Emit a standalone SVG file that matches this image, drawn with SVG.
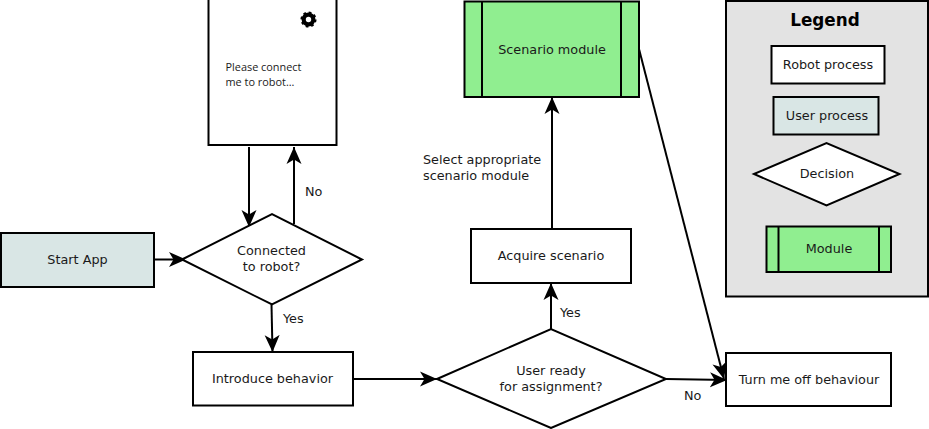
<svg xmlns="http://www.w3.org/2000/svg" width="929" height="429" viewBox="0 0 929 429">
<style>
text{font-family:"DejaVu Sans",sans-serif;font-size:12.800px;fill:#1a1a1a;text-anchor:middle}
.l{text-anchor:start}
.s{stroke:#000;stroke-width:2}
.w{fill:#fff}.u{fill:#d9e6e5}.m{fill:#90ee90}
.c{fill:none;stroke:#000;stroke-width:2;marker-end:url(#a)}
.t{font-family:"Open Sans","Noto Sans",sans-serif;font-size:10.900px}
</style>
<defs><marker id="a" markerUnits="userSpaceOnUse" markerWidth="20" markerHeight="18" refX="17" refY="9" orient="auto"><path d="M0 1.500 17 9 0 16.500 4.500 9Z" fill="#000"/></marker></defs>
<rect width="929" height="429" fill="#fff"/>
<g id="legend"><rect class="s" x="726" y="1" width="202" height="295.500" fill="#e3e3e3"/><text x="825" y="26" style="font-size:16.800px;font-weight:bold;fill:#000">Legend</text></g>
<g id="legend-robot"><rect class="s w" x="771.500" y="46" width="113" height="37.500"/><text x="828" y="69">Robot process</text></g>
<g id="legend-user"><rect class="s u" x="773.500" y="97" width="105" height="37.500"/><text x="827" y="120">User process</text></g>
<g id="legend-decision"><polygon class="s w" points="754,174 826.500,143 899.500,174 826.500,205.500"/><text x="827" y="178">Decision</text></g>
<g id="legend-module"><rect class="s m" x="766.500" y="226.500" width="124.500" height="45.500"/><path class="s" d="M778.500 226.500V272M879 226.500V272"/><text x="829" y="253">Module</text></g>
<g id="connectors">
<path class="c" d="M249 147V227"/>
<path class="c" d="M294 224V147"/>
<path class="c" d="M154 259.500H186"/>
<path class="c" d="M271.500 304.500 272.500 352"/>
<path class="c" d="M353 379H437"/>
<path class="c" d="M551 329V283"/>
<path class="c" d="M552 228V97"/>
<path class="c" d="M666 379 727 380"/>
<path class="c" d="M639 49 724 379"/>
</g>
<g id="tablet"><rect class="s w" x="208.500" y="-1" width="128" height="146"/>
<circle cx="308.500" cy="19.500" r="4.800" fill="none" stroke="#000" stroke-width="4.200"/><circle cx="308.500" cy="19.500" r="6.800" fill="none" stroke="#000" stroke-width="2.500" stroke-dasharray="2.600 2.740"/>
<text class="l t" x="225.500" y="70.500">Please connect</text><text class="l t" x="225.500" y="85.500">me to robot...</text></g>
<g id="start"><rect class="s u" x="1" y="233" width="153" height="54"/><text x="77.500" y="264">Start App</text></g>
<g id="connected"><polygon class="s w" points="182,259.500 272,214 362,259.500 272,304.500"/><text x="271.500" y="255">Connected</text><text x="271.500" y="271">to robot?</text></g>
<g id="introduce"><rect class="s w" x="193" y="352" width="160" height="53.500"/><text x="272.500" y="383">Introduce behavior</text></g>
<g id="ready"><polygon class="s w" points="437,379 551,329 666,379 551,428"/><text x="551" y="375">User ready</text><text x="551" y="391">for assignment?</text></g>
<g id="acquire"><rect class="s w" x="471" y="229" width="160" height="54"/><text x="551" y="260">Acquire scenario</text></g>
<g id="scenario"><rect class="s m" x="464.500" y="1.500" width="174.500" height="95.500"/><path class="s" d="M482 1.500V97M621 1.500V97"/><text x="552" y="54">Scenario module</text></g>
<g id="turnoff"><rect class="s w" x="726" y="353" width="165" height="53"/><text x="809" y="384">Turn me off behaviour</text></g>
<g id="labels">
<text class="l" x="305" y="196">No</text><text class="l" x="283" y="323">Yes</text><text class="l" x="560" y="317">Yes</text><text class="l" x="684" y="400">No</text>
<text class="l" x="423" y="164">Select appropriate</text><text class="l" x="423" y="180">scenario module</text>
</g>
</svg>
